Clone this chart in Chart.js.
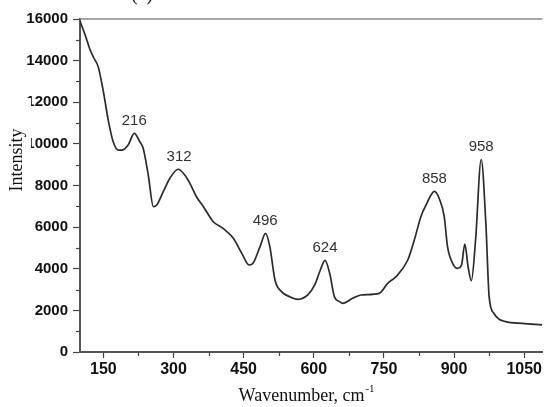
<!DOCTYPE html>
<html lang="en">
<head>
    <meta charset="UTF-8">
    <title>Spectrum</title>
    <script src="https://cdn.jsdelivr.net/npm/chart.js"></script>
    <style>
        html, body { margin: 0; padding: 0; background: #fff; }
        #box { width: 544px; height: 407px; }
    </style>
</head>
<body>
<div id="box"><canvas id="myChart"></canvas></div>

<script>
// wavenumber (cm-1) and intensity
const wavenumber = [100, 111, 122, 129, 139, 150, 161, 171, 182, 189, 203, 216, 228, 235, 246, 257, 264, 278, 292, 310,
    324, 335, 349, 364, 385, 406, 428, 446, 462, 470, 485, 497, 506, 517, 531, 548, 566, 587, 602, 614,
    624, 634, 644, 655, 662, 683, 701, 740, 758, 776, 801, 815, 829, 840, 858, 868, 879, 886, 897, 907,
    916, 923, 930, 937, 946, 958, 968, 975, 985, 1010, 1046, 1088];
const intensity = [15900, 15230, 14500, 14150, 13700, 12510, 11070, 10100, 9700, 9700, 9950, 10500, 10100, 9800, 8500, 6980, 7060, 7700, 8340, 8780,
    8500, 8100, 7460, 6980, 6260, 5940, 5460, 4740, 4180, 4260, 5060, 5700, 5060, 3460, 2900, 2660, 2530, 2740, 3220, 3940,
    4400, 3780, 2660, 2420, 2340, 2580, 2740, 2820, 3300, 3620, 4420, 5380, 6500, 7060, 7720, 7390, 6500, 5060, 4260, 4020,
    4180, 5190, 4100, 3430, 5380, 9250, 6180, 2660, 1860, 1460, 1380, 1300];

// peak labels
const peakPos = [216, 312, 496, 624, 858, 958];
const peakTop = [10500, 8780, 5700, 4400, 7720, 9250];

const xTicks = [150, 300, 450, 600, 750, 900, 1050];
const yTicks = [0, 2000, 4000, 6000, 8000, 10000, 12000, 14000, 16000];

const pontos = wavenumber.map((w, i) => ({ x: w, y: intensity[i] }));

const serif = '"Liberation Serif", "Times New Roman", serif';
const sans = '"Liberation Sans", Arial, sans-serif';

// desenha rótulos dos picos, ticks menores, títulos dos eixos
const extras = {
    id: 'extras',
    afterDraw(chart) {
        const ctx = chart.ctx;
        const x = chart.scales.x;
        const y = chart.scales.y;
        const area = chart.chartArea;
        ctx.save();

        // linha de cima
        ctx.strokeStyle = '#8a8a8a';
        ctx.lineWidth = 1.5;
        ctx.beginPath();
        ctx.moveTo(area.left, area.top);
        ctx.lineTo(area.right, area.top);
        ctx.stroke();

        // ticks menores
        ctx.strokeStyle = '#444';
        ctx.lineWidth = 1.2;
        for (let v = 1000; v < 16000; v += 2000) {
            const py = Math.round(y.getPixelForValue(v)) + 0.5;
            ctx.beginPath();
            ctx.moveTo(area.left - 4, py);
            ctx.lineTo(area.left, py);
            ctx.stroke();
        }
        for (let v = 225; v < 1090; v += 150) {
            const px = Math.round(x.getPixelForValue(v)) + 0.5;
            ctx.beginPath();
            ctx.moveTo(px, area.bottom);
            ctx.lineTo(px, area.bottom + 4);
            ctx.stroke();
        }

        // picos
        ctx.fillStyle = '#333';
        ctx.font = '15px ' + sans;
        ctx.textAlign = 'center';
        ctx.textBaseline = 'alphabetic';
        for (let i = 0; i < peakPos.length; i++) {
            ctx.fillText(String(peakPos[i]), x.getPixelForValue(peakPos[i]), y.getPixelForValue(peakTop[i]) - 8);
        }

        // titulo do eixo y, com fundo branco por cima dos rótulos
        ctx.fillStyle = '#fff';
        ctx.fillRect(4, 98, 27, 96);
        ctx.save();
        ctx.translate(17, 160);
        ctx.rotate(-Math.PI / 2);
        ctx.font = '18px ' + serif;
        ctx.fillStyle = '#111';
        ctx.textAlign = 'center';
        ctx.textBaseline = 'middle';
        ctx.fillText('Intensity', 0, 0);
        ctx.restore();

        // titulo do eixo x com expoente
        ctx.fillStyle = '#111';
        ctx.font = '18px ' + serif;
        ctx.textAlign = 'left';
        ctx.textBaseline = 'alphabetic';
        const t = 'Wavenumber, cm';
        const tw = ctx.measureText(t).width;
        const sx = 306 - (tw + 9) / 2;
        ctx.fillText(t, sx, 401);
        ctx.font = '11px ' + serif;
        ctx.fillText('-1', sx + tw + 1, 392);

        // "(c)" cortado no topo
        ctx.font = '20px ' + serif;
        ctx.textAlign = 'center';
        ctx.fillText('(c)', 142, 0);

        ctx.restore();
    }
};

const config = {
    type: 'line',
    data: {
        datasets: [{
            data: pontos,
            borderColor: '#2b2b2b',
            borderWidth: 1.7,
            pointRadius: 0,
            fill: false,
            cubicInterpolationMode: 'monotone'
        }]
    },
    options: {
        responsive: false,
        animation: false,
        layout: { padding: { top: 19, left: 0, right: 0, bottom: 0 } },
        plugins: {
            legend: { display: false },
            tooltip: { enabled: false }
        },
        scales: {
            x: {
                type: 'linear',
                min: 100,
                max: 1089,
                afterBuildTicks: (axis) => { axis.ticks = xTicks.map(v => ({ value: v })); },
                afterFit: (axis) => { axis.height = 55; },
                grid: { drawOnChartArea: false, tickLength: 6, tickColor: '#444', tickWidth: 1.2 },
                border: { color: '#555', width: 2 },
                ticks: {
                    color: '#111',
                    padding: 2,
                    maxRotation: 0,
                    callback: (v) => String(v),
                    font: { family: sans, size: 16, weight: 'bold' }
                }
            },
            y: {
                min: 0,
                max: 16000,
                afterBuildTicks: (axis) => { axis.ticks = yTicks.map(v => ({ value: v })); },
                afterFit: (axis) => { axis.width = 80; },
                grid: { drawOnChartArea: false, tickLength: 7, tickColor: '#444', tickWidth: 1.2 },
                border: { color: '#555', width: 2 },
                ticks: {
                    color: '#111',
                    padding: 5,
                    callback: (v) => String(v),
                    font: { family: sans, size: 15, weight: 'bold' }
                }
            }
        }
    },
    plugins: [extras]
};

const canvas = document.getElementById('myChart');
canvas.width = 544;
canvas.height = 407;
const grafico = new Chart(canvas, config);
</script>
</body>
</html>
